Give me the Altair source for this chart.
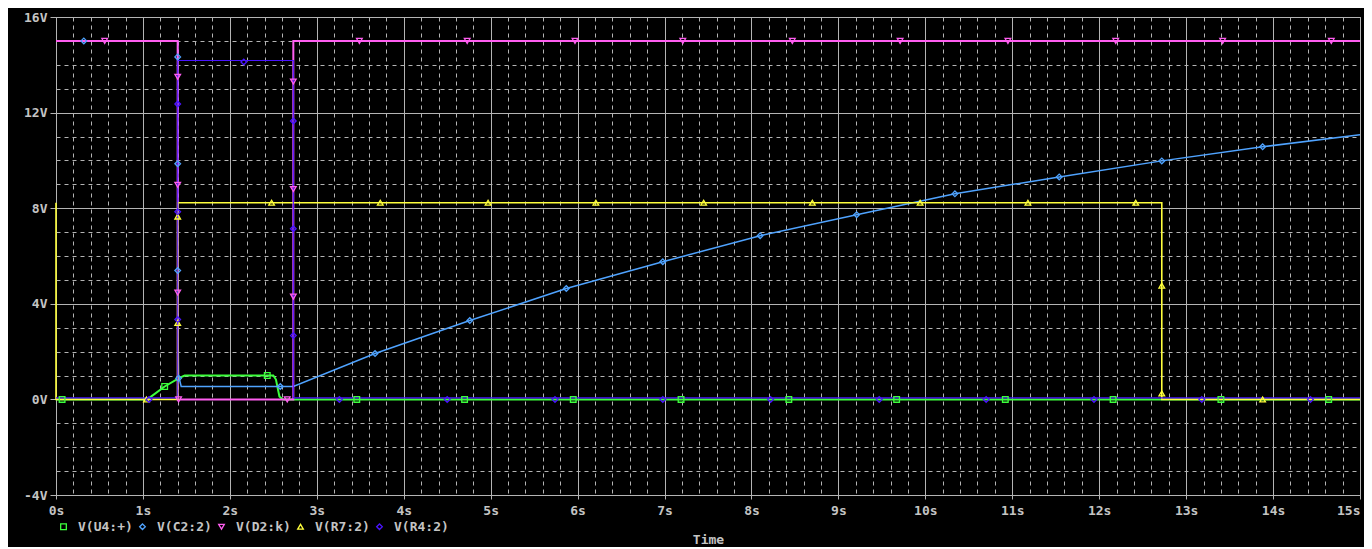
import altair as alt
import pandas as pd

# ---------------- data ----------------
names = ["V(U4:+)", "V(C2:2)", "V(D2:k)", "V(R7:2)", "V(R4:2)"]
colors = ["#3cff3c", "#4fa3ff", "#ff5ef0", "#ffff3c", "#4a14ff"]
shapes = ["square", "diamond", "triangle-down", "triangle-up", "diamond"]

# V(U4:+)
u4_t = [0, 1.05, 1.25, 1.42, 1.48, 2.50, 2.53, 2.57, 2.61, 15]
u4_v = [0, 0, 0.54, 0.9, 1.0, 1.0, 0.83, 0.12, 0, 0]
u4_mt = [0.07, 1.25, 2.43, 3.46, 4.70, 5.95, 7.19, 8.43, 9.67, 10.92, 12.16, 13.40, 14.64]
u4_mv = [0, 0.54, 1.0, 0, 0, 0, 0, 0, 0, 0, 0, 0, 0]

# V(C2:2)
c2_t = [0, 1.40, 1.40, 1.41, 1.44, 2.73, 3.67, 4.76, 5.87, 6.98, 8.10, 9.21, 10.34, 11.54, 12.72, 13.88, 15]
c2_v = [15, 15, 4.1, 1.0, 0.54, 0.54, 1.92, 3.30, 4.64, 5.76, 6.85, 7.73, 8.60, 9.31, 9.98, 10.57, 11.07]
c2_mt = [0.32, 1.40, 1.40, 1.40, 1.41, 2.58, 3.67, 4.76, 5.87, 6.98, 8.10, 9.21, 10.34, 11.54, 12.72, 13.88]
c2_mv = [15, 14.33, 9.86, 5.39, 0.88, 0.54, 1.92, 3.30, 4.64, 5.76, 6.85, 7.73, 8.60, 9.31, 9.98, 10.57]

# V(D2:k)
d2_t = [0, 1.40, 1.40, 2.73, 2.73, 15]
d2_v = [15, 15, 0, 0, 15, 15]
d2_mt = [0.56, 1.40, 1.40, 1.40, 1.41, 2.66, 2.73, 2.73, 2.73, 3.49, 4.73, 5.97, 7.21, 8.47, 9.71, 10.95, 12.19, 13.42, 14.67]
d2_mv = [15, 13.5, 8.98, 4.47, 0, 0, 4.3, 8.8, 13.3, 15, 15, 15, 15, 15, 15, 15, 15, 15, 15]

# V(R7:2)
r7_t = [0, 0, 1.40, 1.40, 12.72, 12.72, 15]
r7_v = [8.23, 0, 0, 8.23, 8.23, 0, 0]
r7_mt = [1.04, 1.40, 1.40, 2.48, 3.73, 4.97, 6.21, 7.45, 8.70, 9.94, 11.18, 12.42, 12.72, 12.72, 13.88]
r7_mv = [0, 7.65, 3.2, 8.23, 8.23, 8.23, 8.23, 8.23, 8.23, 8.23, 8.23, 8.23, 4.76, 0.25, 0]

# V(R4:2)
r4_t = [0, 1.40, 1.40, 2.73, 2.73, 15]
r4_v = [0, 0, 14.12, 14.12, 0, 0]
r4_mt = [1.07, 1.40, 1.40, 1.40, 2.16, 2.73, 2.73, 2.73, 3.26, 4.50, 5.74, 6.98, 8.22, 9.47, 10.70, 11.94, 13.18, 14.43]
r4_mv = [0, 12.36, 7.85, 3.34, 14.12, 11.65, 7.14, 2.67, 0, 0, 0, 0, 0, 0, 0, 0, 0, 0]

x_ticks = [round(i * 0.2, 1) for i in range(76)]
y_ticks = list(range(-4, 17))

# ---------------- styling ----------------
GRID = "#b4b4b4"
TEXT = "#c4c4c4"
FONT = "DejaVu Sans Mono"

x_scale = alt.Scale(domain=[0, 15], nice=False, zero=False)
y_scale = alt.Scale(domain=[-4, 16], nice=False, zero=False)

x_axis = alt.Axis(
    values=x_ticks,
    labelExpr="datum.value % 1 == 0 ? datum.value + 's' : ''",
    labelOverlap=False,
    labelAlign={"condition": {"test": "datum.value == 15", "value": "right"}, "value": "center"},
    labelColor=TEXT, labelFont=FONT, labelFontSize=13, labelFontWeight="bold",
    labelPadding=5,
    grid=True, gridColor=GRID, gridWidth=1,
    gridDash={"condition": {"test": "datum.value % 1 != 0", "value": [4, 4]}, "value": []},
    ticks=True, tickSize=4, tickColor=GRID,
    tickOpacity={"condition": {"test": "datum.value % 1 != 0", "value": 0}, "value": 1},
    domainColor=GRID,
    title="Time", titleColor=TEXT, titleFont=FONT, titleFontSize=13, titleFontWeight="bold",
    titlePadding=16,
)
y_axis = alt.Axis(
    values=y_ticks,
    labelExpr="datum.value % 4 == 0 ? datum.value + 'V' : ''",
    labelOverlap=False,
    labelColor=TEXT, labelFont=FONT, labelFontSize=13, labelFontWeight="bold",
    labelPadding=3,
    grid=True, gridColor=GRID, gridWidth=1,
    gridDash={"condition": {"test": "datum.value % 4 != 0", "value": [4, 4]}, "value": []},
    ticks=True, tickSize=6, tickColor=GRID,
    tickOpacity={"condition": {"test": "datum.value % 4 != 0", "value": 0}, "value": 1},
    domainColor=GRID,
    title=None,
)


def line_layer(t, v, color, width=1.5, **kw):
    df = pd.DataFrame({"t": t, "v": v, "i": list(range(len(t)))})
    return alt.Chart(df).mark_line(color=color, strokeWidth=width, **kw).encode(
        x=alt.X("t:Q", scale=x_scale, axis=x_axis),
        y=alt.Y("v:Q", scale=y_scale, axis=y_axis),
        order="i:Q",
    )


lines = [
    line_layer(u4_t, u4_v, colors[0], width=2),
    line_layer(c2_t, c2_v, colors[1]),
    line_layer(d2_t, d2_v, colors[2], width=2),
    line_layer(r7_t, r7_v, colors[3], width=1.6),
    line_layer(r4_t, r4_v, colors[4], width=1.1, yOffset=-1.5),
]

mark_frames = []
for name, mt, mv in zip(names, [u4_mt, c2_mt, d2_mt, r7_mt, r4_mt], [u4_mv, c2_mv, d2_mv, r7_mv, r4_mv]):
    mark_frames.append(pd.DataFrame({"t": mt, "v": mv, "series": name}))
markers_df = pd.concat(mark_frames, ignore_index=True)

markers = alt.Chart(markers_df).mark_point(filled=False, size=32, strokeWidth=1.3, opacity=1).encode(
    x=alt.X("t:Q", scale=x_scale, axis=x_axis),
    y=alt.Y("v:Q", scale=y_scale, axis=y_axis),
    color=alt.Color("series:N", scale=alt.Scale(domain=names, range=colors),
                    legend=alt.Legend(orient="none", legendX=1, legendY=503, direction="horizontal",
                                      columns=5, title=None, labelColor=TEXT, labelFont=FONT,
                                      labelFontSize=13, labelFontWeight="bold", symbolSize=32,
                                      symbolStrokeWidth=1.3, labelOffset=8, columnPadding=3,
                                      padding=0)),
    shape=alt.Shape("series:N", scale=alt.Scale(domain=names, range=shapes), legend=None),
)

chart = alt.layer(*lines, markers).properties(
    width=1304, height=478,
    autosize=alt.AutoSizeParams(type="none"),
    padding={"left": 48, "top": 9, "right": 4, "bottom": 52},
).configure(background="black").configure_view(stroke=GRID, strokeWidth=1)

chart.save("out.html", embed_options={"renderer": "svg", "actions": False})
